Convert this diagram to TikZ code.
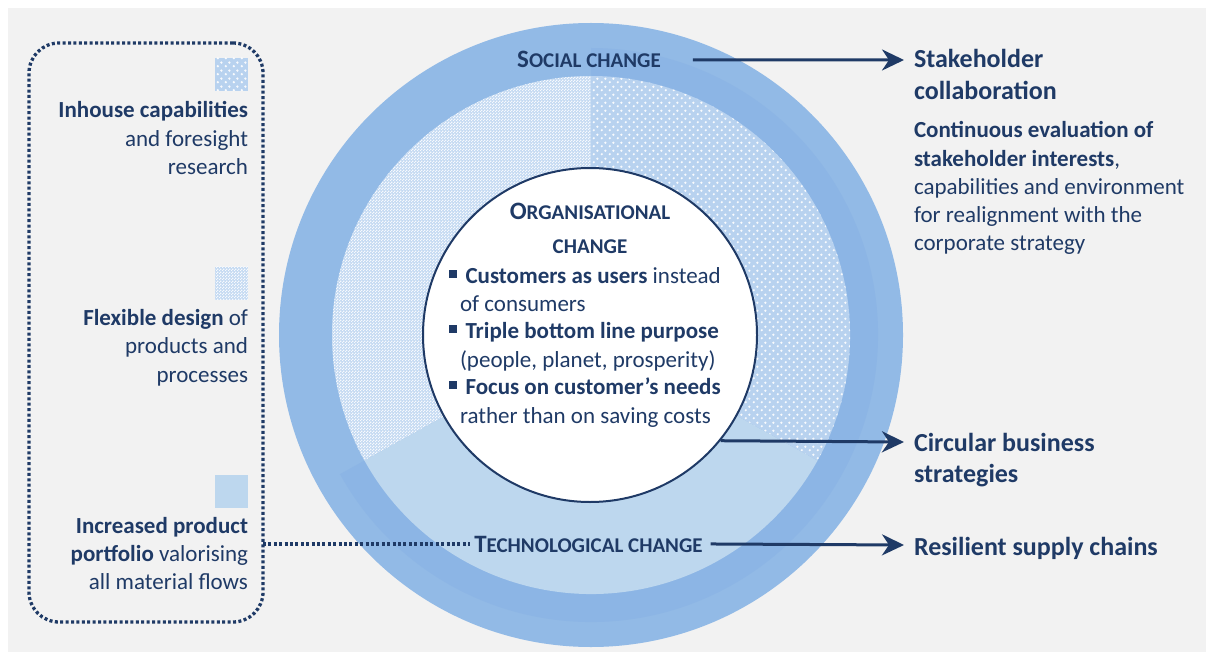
\documentclass[tikz,border=0pt]{standalone}
\usepackage{fontspec}
\setmainfont{Carlito}
\usetikzlibrary{arrows.meta,patterns.meta}
\definecolor{bgc}{HTML}{F2F2F2}
\definecolor{ringc}{HTML}{92BAE6}
\definecolor{banddark}{HTML}{8CB5E5}
\definecolor{techc}{HTML}{BDD7EE}
\definecolor{dotbase}{HTML}{B8D2EF}
\definecolor{chkbase}{HTML}{C4DAF2}
\definecolor{navy}{HTML}{1F3A66}
\tikzdeclarepattern{
  name=wdots, type=uncolored,
  bounding box={(0pt,0pt) and (8pt,8pt)},
  tile size={(8pt,8pt)},
  code={\fill (2pt,2pt) circle (1.4pt); \fill (6pt,6pt) circle (1.4pt);}
}
\tikzdeclarepattern{
  name=wcheck, type=uncolored,
  bounding box={(0pt,0pt) and (3pt,3pt)},
  tile size={(3pt,3pt)},
  code={\fill (0pt,0pt) rectangle (1.5pt,1.5pt); \fill (1.5pt,1.5pt) rectangle (3pt,3pt);}
}
\newcommand{\fakesc}[2]{{\fontsize{25}{25}\selectfont #1}{\fontsize{21}{21}\selectfont #2}}
\newcommand{\sqbul}{\rule[5.5pt]{7.5pt}{7.5pt}\hspace{9pt}}
\begin{document}
\begin{tikzpicture}[x=1pt,y=1pt,
  txt/.style={inner sep=0pt, outer sep=0pt, text=navy, font=\fontsize{23}{28}\selectfont},
  big/.style={inner sep=0pt, outer sep=0pt, text=navy, font=\fontsize{26}{32}\selectfont\bfseries},
  sclabel/.style={inner sep=0pt, outer sep=0pt, text=navy, font=\bfseries},
  arr/.style={draw=navy, line width=3pt, -{Stealth[length=22pt,width=21pt,inset=7pt]}},
  dotline/.style={draw=navy, line width=3.3pt, dash pattern=on 3pt off 2.4pt},
  dotfill/.style={preaction={fill=dotbase}, pattern=wdots, pattern color=white!90!dotbase},
  chkfill/.style={preaction={fill=chkbase}, pattern=wcheck, pattern color=white!85!chkbase},
  legsq/.style={minimum size=33pt, inner sep=0pt, outer sep=0pt}
]
\useasboundingbox (0,0) rectangle (1206,-652);
\fill[white] (0,0) rectangle (1206,-652);
\fill[bgc] (8,-8) rectangle (1206,-652);

% rings
\coordinate (C) at (591,-335);
\fill[ringc] (C) circle (312);
\fill[banddark] (C) -- ++(-151:287) arc (-151:90:287) -- cycle;
\path[chkfill] (C) -- ++(90:259) arc (90:209:259) -- cycle;
\path[dotfill] (C) -- ++(-29:259) arc (-29:90:259) -- cycle;
\fill[techc] (C) -- ++(209:259) arc (209:331:259) -- cycle;

% central circle
\node[circle, draw=navy, line width=2pt, fill=white, minimum size=334pt, inner sep=0pt] (org) at (590,-335) {};

% centre texts
\node[sclabel, anchor=base] (o1) at (590,-220) {\fakesc{O}{RGANISATIONAL}};
\node[sclabel, anchor=base] (o2) at (590,-253) {\fontsize{21}{21}\selectfont CHANGE};
\node[txt, anchor=base west] (c1) at (449,-283) {\sqbul\textbf{Customers as users} instead};
\node[txt, anchor=base west] (c2) at (460,-311) {of consumers};
\node[txt, anchor=base west] (c3) at (449,-338) {\sqbul\textbf{Triple bottom line purpose}};
\node[txt, anchor=base west] (c4) at (460,-367) {(people, planet, prosperity)};
\node[txt, anchor=base west] (c5) at (449,-394) {\sqbul\textbf{Focus on customer’s needs}};
\node[txt, anchor=base west] (c6) at (460,-423) {rather than on saving costs};

% ring labels
\node[sclabel, anchor=base] (soc) at (589,-68) {\fakesc{S}{OCIAL CHANGE}};
\node[sclabel, anchor=base] (tech) at (588.5,-552) {\fakesc{T}{ECHNOLOGICAL CHANGE}};

% legend box
\node[dotline, rounded corners=30pt,
      minimum width=234pt, minimum height=579pt, inner sep=0pt, outer sep=0pt] (lg) at (146,-332.5) {};
\node[legsq, dotfill] (sq1) at (231.5,-74.5) {};
\node[legsq, chkfill] (sq2) at (231.5,-283) {};
\node[legsq, fill=techc] (sq3) at (231,-491) {};

\node[txt, anchor=base east] (l1a) at (248,-118) {\textbf{Inhouse capabilities}};
\node[txt, anchor=base east] (l1b) at (248,-147) {and foresight};
\node[txt, anchor=base east] (l1c) at (248,-175) {research};
\node[txt, anchor=base east] (l2a) at (248,-325) {\textbf{Flexible design} of};
\node[txt, anchor=base east] (l2b) at (248,-353) {products and};
\node[txt, anchor=base east] (l2c) at (248,-382) {processes};
\node[txt, anchor=base east] (l3a) at (248,-533) {\textbf{Increased product}};
\node[txt, anchor=base east] (l3b) at (248,-561) {\textbf{portfolio} valorising};
\node[txt, anchor=base east] (l3c) at (248,-589) {all material flows};

% right texts
\node[big, anchor=base west] (r1a) at (914,-68) {Stakeholder};
\node[big, anchor=base west] (r1b) at (914,-100) {collaboration};
\node[txt, anchor=base west] (r1c) at (914,-138) {\textbf{Continuous evaluation of}};
\node[txt, anchor=base west] (r1d) at (914,-167) {\textbf{stakeholder interests},};
\node[txt, anchor=base west] (r1e) at (914,-195) {capabilities and environment};
\node[txt, anchor=base west] (r1f) at (914,-223) {for realignment with the};
\node[txt, anchor=base west] (r1g) at (914,-251) {corporate strategy};
\node[big, anchor=base west] (r2a) at (914,-451) {Circular business};
\node[big, anchor=base west] (r2b) at (914,-482) {strategies};
\node[big, anchor=base west] (r3) at (914,-555) {Resilient supply chains};

% connectors
\coordinate (e1) at (904,-60);
\coordinate (e2) at (904,-442);
\coordinate (e3) at (904,-545);
\draw[arr] ([xshift=32pt]soc.east) -- (e1);
\draw[arr] (org.-39.8) -- (e2);
\draw[arr] ([xshift=8pt]tech.east) -- (e3);
\draw[dotline] (lg.east |- tech.west) -- ([xshift=-4pt]tech.west);
\end{tikzpicture}
\end{document}
